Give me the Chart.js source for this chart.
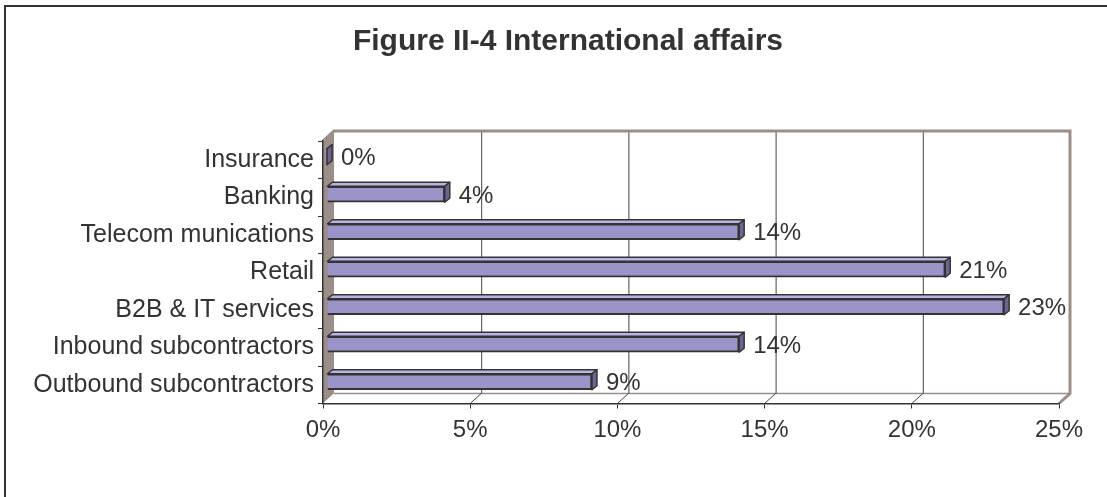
<!DOCTYPE html>
<html>
<head>
<meta charset="utf-8">
<script src="https://cdn.jsdelivr.net/npm/chart.js@4"></script>
<style>
  body { margin: 0; background: #fff; }
  canvas { display: block; }
</style>
</head>
<body>
<canvas id="chart" width="1107" height="497"></canvas>
<script>
const chartTitle = 'Figure II-4 International affairs';
const categories = ['Insurance', 'Banking', 'Telecom munications', 'Retail', 'B2B & IT services', 'Inbound subcontractors', 'Outbound subcontractors'];
const shares = [0, 4, 14, 21, 23, 14, 9];
const axisMax = 25;
const axisStep = 5;

const FONT = '"Liberation Sans", Arial, sans-serif';
const TEXT = '#333';
const WALL = '#9b8d87';

// 3D offsets (back wall vs front axis, bar mid-depth, bar depth)
const FX = 11, FY = -10;
const BX = 4, BY = -3;
const TX = 5, TY = -4;

function poly(ctx, pts) {
    ctx.beginPath();
    ctx.moveTo(pts[0][0], pts[0][1]);
    for (let i = 1; i < pts.length; i++) ctx.lineTo(pts[i][0], pts[i][1]);
    ctx.closePath();
}

// Background, outer frame, title, walls and floor
const frame = {
    id: 'frame',
    beforeDraw(chart) {
        const { ctx, chartArea: a, scales: { x } } = chart;
        ctx.save();
        ctx.fillStyle = '#fff';
        ctx.fillRect(0, 0, chart.width, chart.height);

        ctx.strokeStyle = '#333';
        ctx.lineWidth = 2;
        ctx.beginPath();
        ctx.moveTo(5, chart.height);
        ctx.lineTo(5, 6);
        ctx.lineTo(chart.width, 6);
        ctx.stroke();

        ctx.fillStyle = TEXT;
        ctx.font = 'bold 30px ' + FONT;
        ctx.textAlign = 'center';
        ctx.textBaseline = 'middle';
        ctx.fillText(chartTitle, 568, 42);

        // left wall
        ctx.fillStyle = WALL;
        poly(ctx, [[a.left, a.top], [a.left + FX, a.top + FY], [a.left + FX, a.bottom + FY], [a.left, a.bottom]]);
        ctx.fill();

        // floor
        ctx.fillStyle = '#fff';
        poly(ctx, [[a.left, a.bottom], [a.left + FX, a.bottom + FY], [a.right + FX, a.bottom + FY], [a.right, a.bottom]]);
        ctx.fill();
        ctx.strokeStyle = WALL;
        ctx.lineWidth = 1.5;
        ctx.beginPath();
        ctx.moveTo(a.left + FX, a.bottom + FY);
        ctx.lineTo(a.right + FX, a.bottom + FY);
        ctx.stroke();

        // gridlines on back wall + floor
        x.ticks.forEach(t => {
            if (t.value === 0) return;
            const px = x.getPixelForValue(t.value);
            ctx.strokeStyle = '#444';
            ctx.lineWidth = 1;
            ctx.beginPath();
            ctx.moveTo(px + FX + 0.5, a.top + FY);
            ctx.lineTo(px + FX + 0.5, a.bottom + FY);
            ctx.moveTo(px, a.bottom);
            ctx.lineTo(px + FX, a.bottom + FY);
            ctx.stroke();
        });

        // wall border
        ctx.strokeStyle = WALL;
        ctx.lineWidth = 3;
        ctx.beginPath();
        ctx.moveTo(a.left, a.top);
        ctx.lineTo(a.left + FX, a.top + FY);
        ctx.lineTo(a.right + FX, a.top + FY);
        ctx.lineTo(a.right + FX, a.bottom + FY);
        ctx.lineTo(a.right, a.bottom);
        ctx.stroke();
        ctx.restore();
    }
};

// Shift bars to mid-depth, then add top/side faces and value labels
const bars3d = {
    id: 'bars3d',
    beforeDatasetsDraw(chart) {
        chart.ctx.save();
        chart.ctx.translate(BX, BY);
    },
    afterDatasetsDraw(chart) {
        const ctx = chart.ctx;
        ctx.restore();
        const meta = chart.getDatasetMeta(0);
        ctx.save();
        ctx.lineWidth = 1.5;
        ctx.strokeStyle = '#333';
        ctx.lineJoin = 'round';
        meta.data.forEach((bar, i) => {
            const { x, y, base, height } = bar.getProps(['x', 'y', 'base', 'height'], true);
            const top = y - height / 2 + BY, bot = y + height / 2 + BY;
            const x0 = base + BX, x1 = x + BX;
            ctx.fillStyle = '#b9b4e2';
            poly(ctx, [[x0, top], [x1, top], [x1 + TX, top + TY], [x0 + TX, top + TY]]);
            ctx.fill(); ctx.stroke();
            ctx.fillStyle = '#6c6594';
            poly(ctx, [[x1, top], [x1 + TX, top + TY], [x1 + TX, bot + TY], [x1, bot]]);
            ctx.fill(); ctx.stroke();

            ctx.fillStyle = TEXT;
            ctx.font = '24px ' + FONT;
            ctx.textAlign = 'left';
            ctx.textBaseline = 'middle';
            ctx.fillText(shares[i] + '%', x1 + TX + 9, y - 1);
        });
        ctx.restore();
    }
};

new Chart(document.getElementById('chart').getContext('2d'), {
    type: 'bar',
    data: {
        labels: categories,
        datasets: [{
            data: shares,
            backgroundColor: '#9a94c8',
            borderColor: '#333',
            borderWidth: 2,
            barThickness: 16,
            clip: false
        }]
    },
    options: {
        indexAxis: 'y',
        responsive: false,
        animation: false,
        devicePixelRatio: 1,
        layout: { padding: { left: 8, right: 48, top: 141, bottom: 0 } },
        plugins: {
            legend: { display: false },
            tooltip: { enabled: false },
            title: { display: false }
        },
        scales: {
            x: {
                min: 0,
                max: axisMax,
                afterFit(scale) { scale.height = 93.5; },
                ticks: {
                    stepSize: axisStep,
                    color: TEXT,
                    padding: 7,
                    font: { family: FONT, size: 24 },
                    callback: v => v + '%'
                },
                grid: { drawOnChartArea: false, drawTicks: true, tickLength: 5, color: '#333' },
                border: { display: true, color: '#333', width: 1.5 }
            },
            y: {
                afterFit(scale) { scale.width = 315; },
                ticks: {
                    color: TEXT,
                    padding: 4,
                    autoSkip: false,
                    font: { family: FONT, size: 25 }
                },
                grid: { drawOnChartArea: false, drawTicks: true, tickLength: 5, color: '#333', offset: true },
                border: { display: true, color: '#333', width: 1.5 }
            }
        }
    },
    plugins: [frame, bars3d]
});
</script>
</body>
</html>
